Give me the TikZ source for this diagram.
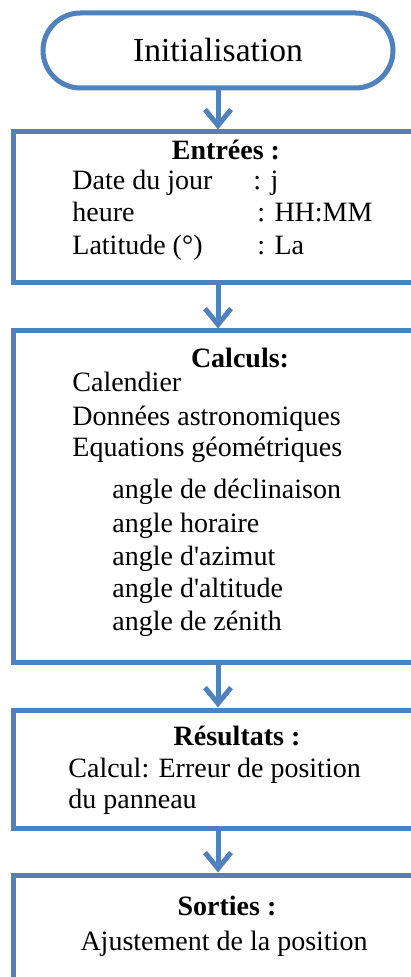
\documentclass[tikz,border=0pt]{standalone}
\usepackage{fontspec}
\setmainfont{Liberation Serif}
\usetikzlibrary{arrows.meta,shapes.misc}
\definecolor{flowblue}{RGB}{79,129,189}

\tikzset{
  stepbox/.style={draw=flowblue, line width=2.5pt, rectangle, inner sep=0pt},
  flow/.style={draw=flowblue, line width=2.5pt, -{Straight Barb[length=8pt,width=13pt,line width=2.5pt]}},
  txt/.style={anchor=base west, inner sep=0pt, font=\fontsize{14}{16}\selectfont},
  head/.style={anchor=base, inner sep=0pt, font=\fontsize{14}{16}\selectfont\bfseries}
}

\begin{document}
\begin{tikzpicture}[x=0.5pt, y=-0.5pt]
\clip (0,0) rectangle (411,977);
\useasboundingbox (0,0) rectangle (411,977);

% boxes
\node[draw=flowblue, line width=2.5pt, rounded rectangle, minimum width=175pt, minimum height=37.5pt, inner sep=0pt,
      font=\fontsize{16.8}{19}\selectfont] (init) at (218,50.5) {Initialisation};
\node[stepbox, minimum width=218.5pt, minimum height=75.5pt] (entrees) at (231.5,207.5) {};
\node[stepbox, minimum width=218.5pt, minimum height=165.5pt] (calculs) at (231.5,496.5) {};
\node[stepbox, minimum width=218.5pt, minimum height=59pt] (resultats) at (231.5,769) {};
\node[stepbox, minimum width=218.5pt, minimum height=100pt] (sorties) at (231.5,975) {};

% texts
\node[head] (hEntrees) at (226,160) {Entrées :};
\node[txt] (date) at (72,190) {Date du jour};
\node[txt] (heure) at (72,222) {heure};
\node[txt] (lat) at (72,255) {Latitude (°)};
\node[txt] (vj) at (253,190) {: j};
\node[txt] (vh) at (257,222) {: HH:MM};
\node[txt] (vla) at (257,255) {: La};

\node[head] (hCalculs) at (240,368) {Calculs:};
\node[txt] (cal) at (72,392) {Calendier};
\node[txt] (astro) at (72,425) {Données astronomiques};
\node[txt] (geom) at (72,457) {Equations géométriques};
\node[txt] (a1) at (112,498) {angle de déclinaison};
\node[txt] (a2) at (112,532) {angle horaire};
\node[txt] (a3) at (112,565) {angle d\textquotesingle azimut};
\node[txt] (a4) at (112,597) {angle d\textquotesingle altitude};
\node[txt] (a5) at (112,630) {angle de zénith};

\node[head] (hResultats) at (237,745) {Résultats :};
\node[txt] (err) at (68,777) {Calcul: Erreur de position};
\node[txt] (pan) at (68,808) {du panneau};

\node[head] (hSorties) at (227,915) {Sorties :};
\node[txt, anchor=base] (ajust) at (224,950) {Ajustement de la position};

% arrows
\draw[flow] (init.south) -- (entrees.north -| init.south);
\draw[flow] (entrees.south -| init.south) -- (calculs.north -| init.south);
\draw[flow] (calculs.south -| init.south) -- (resultats.north -| init.south);
\draw[flow] (resultats.south -| init.south) -- (sorties.north -| init.south);
\end{tikzpicture}
\end{document}
